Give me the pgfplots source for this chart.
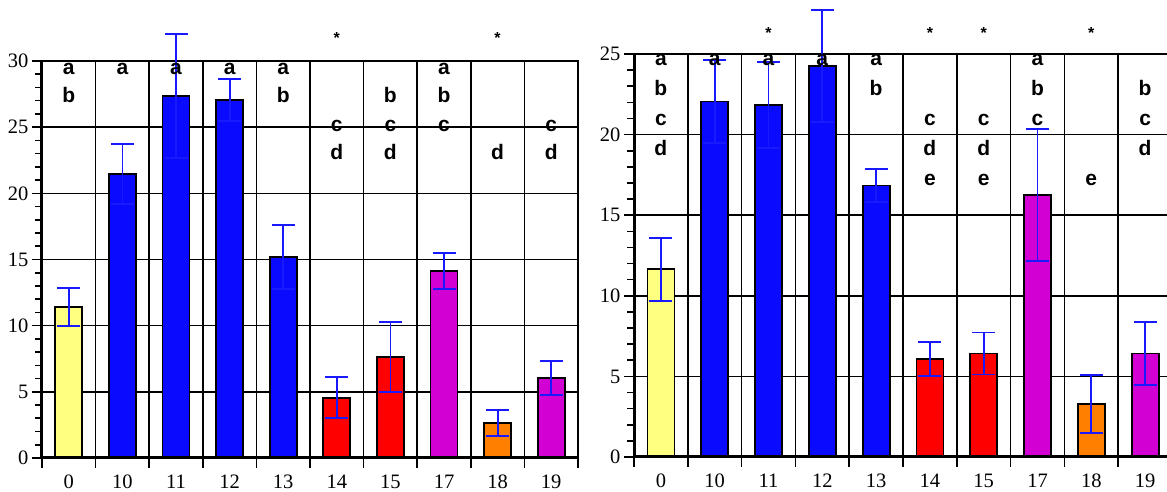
\documentclass[border=0pt]{standalone}
\usepackage{fontspec}
\setmainfont{Liberation Serif}
\setsansfont{Liberation Sans}
\usepackage{pgfplots}
\pgfplotsset{compat=1.18}
\definecolor{cyel}{RGB}{255,255,128}
\definecolor{cblu}{RGB}{10,10,255}
\definecolor{cred}{RGB}{255,0,0}
\definecolor{cmag}{RGB}{210,0,210}
\definecolor{cora}{RGB}{255,128,0}
\definecolor{ceb}{RGB}{25,25,255}
\tikzset{
  lab/.style={anchor=base, inner sep=0pt, font=\fontsize{21}{21}\selectfont\sffamily\bfseries},
  ast/.style={anchor=base, inner sep=0pt, font=\fontsize{16}{16}\selectfont\sffamily\bfseries},
}
\pgfplotsset{
  panel/.style={
    scale only axis, anchor=south west,
    xmin=-0.5, xmax=9.5, ymin=0,
    xtick={0,...,9}, xticklabels={0,10,11,12,13,14,15,17,18,19},
    major x tick style={draw=none},
    extra x ticks={-0.5,0.5,...,9.5}, extra x tick labels={},
    extra x tick style={grid=major, major x tick style={draw=black}},
    ymajorgrids, grid style={black, line width=1.5pt},
    xtick pos=bottom, ytick pos=left,
    tick align=outside, major tick length=10pt,
    tick style={black, line width=1.5pt},
    axis line style={black, line width=2pt},
    tick label style={font=\rmfamily\fontsize{20.5}{20.5}\selectfont},
    xticklabel style={yshift=-3pt},
    /pgf/number format/assume math mode=true,
    clip=false,
  },
  bars/.style={ybar, bar width=27pt, bar shift=0pt, draw=black, line width=1.8pt, fill=#1,
    error bars/.cd, y dir=both, y explicit,
    error bar style={color=ceb, line width=1.8pt},
    error mark options={rotate=90, color=ceb, line width=1.8pt, mark size=11.5pt}},
}
\begin{document}
\begin{tikzpicture}
% ---------------- left panel ----------------
\begin{axis}[panel, at={(42pt,34pt)}, width=536pt, height=397pt, ymax=30, ytick={0,5,...,30}]
\addplot[bars=cyel] coordinates {(0,11.4) +- (0,1.45)};
\addplot[bars=cblu] coordinates {(1,21.45) +- (0,2.25) (2,27.36) +- (0,4.66) (3,27.05) +- (0,1.59) (4,15.2) +- (0,2.4)};
\addplot[bars=cred] coordinates {(5,4.55) +- (0,1.55) (6,7.65) +- (0,2.65)};
\addplot[bars=cmag] coordinates {(7,14.15) +- (0,1.35) (9,6.05) +- (0,1.3)};
\addplot[bars=cora] coordinates {(8,2.65) +- (0,1.0)};
\draw[black, line width=3pt] (rel axis cs:0,1) -- (rel axis cs:0,0) -- (rel axis cs:1,0);
\pgfplotsinvokeforeach{1,2,3,4,6,7,8,9,11,12,13,14,16,17,18,19,21,22,23,24,26,27,28,29}{\draw[black, line width=1.6pt] (axis cs:-0.5,#1) -- ++(-7pt,0pt);}
\pgfplotsinvokeforeach{0,5,10,15,20,25,30}{\draw[black, line width=1.6pt] (axis cs:-0.5,#1) -- ++(-10pt,0pt);}
\node[lab] at (axis cs:0,28.98) {a};
\node[lab] at (axis cs:0,26.83) {b};
\node[lab] at (axis cs:1,28.98) {a};
\node[lab] at (axis cs:2,28.98) {a};
\node[lab] at (axis cs:3,28.98) {a};
\node[lab] at (axis cs:4,28.98) {a};
\node[lab] at (axis cs:4,26.83) {b};
\node[lab] at (axis cs:5,24.67) {c};
\node[lab] at (axis cs:5,22.52) {d};
\node[lab] at (axis cs:6,26.83) {b};
\node[lab] at (axis cs:6,24.67) {c};
\node[lab] at (axis cs:6,22.52) {d};
\node[lab] at (axis cs:7,28.98) {a};
\node[lab] at (axis cs:7,26.83) {b};
\node[lab] at (axis cs:7,24.67) {c};
\node[lab] at (axis cs:8,22.52) {d};
\node[lab] at (axis cs:9,24.67) {c};
\node[lab] at (axis cs:9,22.52) {d};
\node[ast] at (axis cs:5,31.29) {*};
\node[ast] at (axis cs:8,31.29) {*};
\end{axis}
% ---------------- right panel ----------------
\begin{axis}[panel, at={(634pt,35pt)}, width=538pt, height=403pt, ymax=25, ytick={0,5,...,25}]
\addplot[bars=cyel] coordinates {(0,11.65) +- (0,1.95)};
\addplot[bars=cblu] coordinates {(1,22.05) +- (0,2.58) (2,21.84) +- (0,2.65) (3,24.26) +- (0,3.47) (4,16.84) +- (0,1.03)};
\addplot[bars=cred] coordinates {(5,6.08) +- (0,1.05) (6,6.42) +- (0,1.3)};
\addplot[bars=cmag] coordinates {(7,16.25) +- (0,4.1) (9,6.42) +- (0,1.95)};
\addplot[bars=cora] coordinates {(8,3.3) +- (0,1.8)};
\draw[black, line width=3pt] (rel axis cs:0,1) -- (rel axis cs:0,0) -- (rel axis cs:1,0);
\pgfplotsinvokeforeach{1,2,3,4,6,7,8,9,11,12,13,14,16,17,18,19,21,22,23,24}{\draw[black, line width=1.6pt] (axis cs:-0.5,#1) -- ++(-7pt,0pt);}
\pgfplotsinvokeforeach{0,5,10,15,20,25}{\draw[black, line width=1.6pt] (axis cs:-0.5,#1) -- ++(-10pt,0pt);}
\node[lab] at (axis cs:0,24.26) {a};
\node[lab] at (axis cs:0,22.41) {b};
\node[lab] at (axis cs:0,20.56) {c};
\node[lab] at (axis cs:0,18.72) {d};
\node[lab] at (axis cs:1,24.26) {a};
\node[lab] at (axis cs:2,24.26) {a};
\node[lab] at (axis cs:3,24.26) {a};
\node[lab] at (axis cs:4,24.26) {a};
\node[lab] at (axis cs:4,22.41) {b};
\node[lab] at (axis cs:5,20.56) {c};
\node[lab] at (axis cs:5,18.72) {d};
\node[lab] at (axis cs:5,16.87) {e};
\node[lab] at (axis cs:6,20.56) {c};
\node[lab] at (axis cs:6,18.72) {d};
\node[lab] at (axis cs:6,16.87) {e};
\node[lab] at (axis cs:7,24.26) {a};
\node[lab] at (axis cs:7,22.41) {b};
\node[lab] at (axis cs:7,20.56) {c};
\node[lab] at (axis cs:8,16.87) {e};
\node[lab] at (axis cs:9,22.41) {b};
\node[lab] at (axis cs:9,20.56) {c};
\node[lab] at (axis cs:9,18.72) {d};
\node[ast] at (axis cs:2,25.99) {*};
\node[ast] at (axis cs:5,25.99) {*};
\node[ast] at (axis cs:6,25.99) {*};
\node[ast] at (axis cs:8,25.99) {*};
\end{axis}
\pgfresetboundingbox
\path[use as bounding box] (0,0) rectangle (1167pt,492pt);
\end{tikzpicture}
\end{document}
